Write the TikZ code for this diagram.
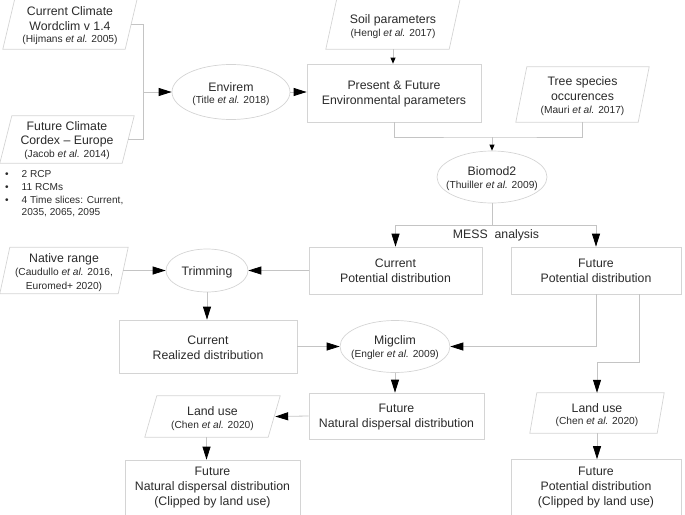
\documentclass[tikz,border=0pt]{standalone}
\usepackage{fontspec}
\setmainfont{Liberation Sans}
\usetikzlibrary{arrows.meta,shapes.geometric,calc}
\definecolor{linec}{HTML}{C4C4C4}
\definecolor{boxc}{HTML}{D4D4D4}
\definecolor{txt}{HTML}{2A2A2A}
\newcommand{\mainsz}{\fontsize{12.3}{15}\selectfont}
\newcommand{\citesz}{\fontsize{10.2}{12.5}\selectfont}
\newcommand{\parabox}[2]{\draw[draw=boxc,line width=0.7pt] ([xshift=#2]#1.north west) -- (#1.north east) -- ([xshift=-#2]#1.south east) -- (#1.south west) -- cycle;}
\begin{document}
\begin{tikzpicture}[x=1pt,y=-1pt,
  every node/.style={text=txt,font=\mainsz},
  boxnode/.style={draw=boxc,line width=0.7pt,rectangle,inner sep=0pt},
  paranode/.style={rectangle,inner sep=0pt},
  ell/.style={draw=boxc,line width=0.7pt,ellipse,inner sep=0pt},
  lbl/.style={inner sep=0pt,align=center},
  conn/.style={draw=linec,line width=0.8pt},
  big/.style={-{Triangle[length=13pt,width=8pt,color=black]}},
  small/.style={-{Triangle[length=6pt,width=5pt,color=black]}}
]
\useasboundingbox (0,0) rectangle (685,514);

% top-left inputs
\node[paranode,minimum width=134,minimum height=50] (cc) at (70,24) {};
\parabox{cc}{12}
\node[lbl] (cct) at (70,26) {Current Climate\\[-0.7pt] Wordclim v 1.4\\[-2.5pt] \citesz (Hijmans \emph{et al.} 2005)};
\node[paranode,minimum width=134,minimum height=47] (fc) at (67,139.5) {};
\parabox{fc}{12}
\node[lbl] (fct) at (67,140.6) {Future Climate\\[-0.7pt] Cordex – Europe\\[-2.5pt] \citesz (Jacob \emph{et al.} 2014)};
\node[lbl,anchor=north west,font=\fontsize{10.1}{12.7}\selectfont,align=left] (bul) at (5,168.7) {\begin{tabular}{@{}l@{\hspace{13pt}}l@{}}•&2 RCP\\ •&11 RCMs\\ •&4 Time slices: Current,\\ &2035, 2065, 2095\end{tabular}};

% Envirem
\node[ell,minimum width=118,minimum height=55] (env) at (231,92) {};
\node[lbl] (envt) at (231,94) {Envirem\\[-2.5pt] \citesz (Title \emph{et al.} 2018)};
\coordinate (bk) at (143,92);
\draw[conn] ([xshift=-6]cc.east) -| (bk);
\draw[conn] ([xshift=-6]fc.east) -| (bk);
\draw[conn,big] (bk) -- (env.west);

% Soil and Present
\node[paranode,minimum width=134,minimum height=50] (soil) at (393,24) {};
\parabox{soil}{11}
\node[lbl] (soilt) at (393,26.5) {Soil parameters\\[-2.5pt] \citesz (Hengl \emph{et al.} 2017)};
\node[boxnode,minimum width=174,minimum height=58] (pf) at (394,93) {};
\node[lbl] (pft) at (394,94.5) {Present \& Future\\ Environmental parameters};
\draw[conn,small] (soil.south) -- (soil.south |- pf.north);
\draw[conn,big] (env.east) -- (env.east -| pf.west);

% Tree species
\node[paranode,minimum width=133,minimum height=55] (tree) at (582.5,94.5) {};
\parabox{tree}{11}
\node[lbl] (treet) at (582.5,96) {Tree species\\ occurences\\[-2.5pt] \citesz (Mauri \emph{et al.} 2017)};

% Biomod2
\node[ell,minimum width=110,minimum height=52] (bio) at (492,177) {};
\node[lbl] (biot) at (492,178.5) {Biomod2\\[-2.5pt] \citesz (Thuiller \emph{et al.} 2009)};
\coordinate (j1) at (492,137);
\draw[conn] (pf.south) |- (j1) -| (tree.south);
\draw[conn,small] (j1) -- (bio.north);

% potential distributions
\node[boxnode,minimum width=173,minimum height=47] (cp) at (395.5,270.5) {};
\node[lbl] (cpt) at (395.5,271) {Current\\ Potential distribution};
\node[boxnode,minimum width=170,minimum height=47] (fp) at (596,270.5) {};
\node[lbl] (fpt) at (596,271) {Future\\ Potential distribution};
\coordinate (j2) at (492,225);
\draw[conn] (bio.south) -- (j2);
\draw[conn,big] (j2) -| (cp.north);
\draw[conn,big] (j2) -| (fp.north);
\node[lbl] (mess) at (496,235.5) {MESS\hspace{0.55em}analysis};

% Trimming
\node[paranode,minimum width=128,minimum height=46] (nr) at (64,270.5) {};
\parabox{nr}{10}
\node[lbl] (nrt) at (64,273) {Native range\\[-2.5pt] \citesz (Caudullo \emph{et al.} 2016,\\[-0.5pt] \citesz Euromed+ 2020)};
\node[ell,minimum width=82,minimum height=43] (trim) at (207,270.5) {};
\node[lbl] (trimt) at (207,272) {Trimming};
\draw[conn,big] ([xshift=-5]nr.east) -- (trim.west);
\draw[conn,big] (cp.west) -- (trim.east);

% Realized and Migclim
\node[boxnode,minimum width=178,minimum height=53] (rd) at (208,346.5) {};
\node[lbl] (rdt) at (208,347.5) {Current\\ Realized distribution};
\draw[conn,big] (trim.south) -- (trim.south |- rd.north);
\node[ell,minimum width=110,minimum height=52] (mig) at (395,346.5) {};
\node[lbl] (migt) at (395,347.5) {Migclim\\[-2.5pt] \citesz (Engler \emph{et al.} 2009)};
\draw[conn,big] (rd.east) -- (mig.west);
\draw[conn,big] (fp.south) |- (mig.east);

% Future natural dispersal
\node[boxnode,minimum width=175,minimum height=46] (fn) at (396.5,416) {};
\node[lbl] (fnt) at (396.5,417.5) {Future\\ Natural dispersal distribution};
\draw[conn,big] (mig.south) -- (mig.south |- fn.north);
\node[paranode,minimum width=135,minimum height=41] (lu1) at (212.5,416.5) {};
\parabox{lu1}{12}
\node[lbl] (lu1t) at (212.5,418.5) {Land use\\[-2.5pt] \citesz (Chen \emph{et al.} 2020)};
\draw[conn,big] (fn.west) -- ([xshift=-5]lu1.east);
\node[boxnode,minimum width=175,minimum height=57] (b1) at (212.5,488.5) {};
\node[lbl] (b1t) at (212.5,488) {Future\\ Natural dispersal distribution\\ (Clipped by land use)};
\draw[conn,big] ([xshift=-6]lu1.south) -- ([xshift=-6]lu1.south |- b1.north);

% right branch
\node[paranode,minimum width=134,minimum height=40] (lu2) at (597,413) {};
\parabox{lu2}{7}
\node[lbl] (lu2t) at (597,415) {Land use\\[-2.5pt] \citesz (Chen \emph{et al.} 2020)};
\coordinate (j3) at (639,362);
\draw[conn,big] ([xshift=43]fp.south) -- (j3) -| (lu2.north);
\node[boxnode,minimum width=170,minimum height=57] (b2) at (596,488) {};
\node[lbl] (b2t) at (596,488) {Future\\ Potential distribution\\ (Clipped by land use)};
\draw[conn,big] (lu2.south) -- (lu2.south |- b2.north);
\end{tikzpicture}
\end{document}
